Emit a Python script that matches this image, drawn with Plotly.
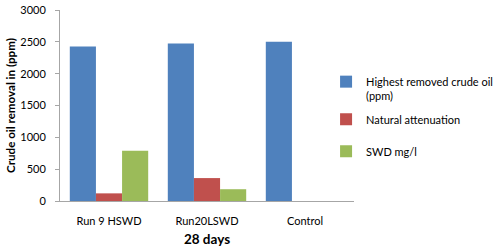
import plotly.graph_objects as go

categories = ["Run 9 HSWD", "Run20LSWD", "Control"]
highest_removed = [2425, 2475, 2500]
natural_attenuation = [120, 360, 0]
swd = [790, 185, 0]

series_names = ["Highest removed crude oil<br>(ppm)", "Natural attenuation", "SWD mg/l"]
colors = ["#4F81BD", "#C0504D", "#9BBB59"]
legend_ids = ["legend", "legend2", "legend2"]
y_ticks = [0, 500, 1000, 1500, 2000, 2500, 3000]

FONT = "Lato"

fig = go.Figure()
for i, (name, vals, col, lg) in enumerate(zip(series_names, [highest_removed, natural_attenuation, swd], colors, legend_ids)):
    fig.add_trace(go.Bar(x=categories, y=vals, name=name, marker=dict(color=col, line=dict(width=0)),
                         legendgroup=f"g{i}", legend=lg))

legend_common = dict(xref="paper", x=0.905, xanchor="left", yref="container", yanchor="top",
                     font=dict(size=11, family=FONT), itemwidth=30, tracegroupgap=13,
                     bgcolor="rgba(0,0,0,0)", valign="top")

fig.update_layout(
    width=500, height=252,
    margin=dict(l=60, r=146, t=10, b=51, autoexpand=False),
    paper_bgcolor="white", plot_bgcolor="white",
    font=dict(family=FONT, size=11, color="#000000"),
    barmode="group", bargap=0.2, bargroupgap=0,
    showlegend=True,
    legend=dict(legend_common, y=1 - 68 / 252),
    legend2=dict(legend_common, y=1 - 105.5 / 252),
    xaxis=dict(showline=True, linecolor="#A6A6A6", linewidth=1, ticks="", showgrid=False,
               ticklabelstandoff=10, automargin=False,
               title=dict(text="<b>28 days</b>", font=dict(size=13.5, family=FONT), standoff=8)),
    yaxis=dict(range=[0, 3000], tickvals=y_ticks, showline=True, linecolor="#A6A6A6", linewidth=1,
               ticks="outside", ticklen=4, tickcolor="#A6A6A6", showgrid=False, zeroline=False,
               automargin=False, ticklabelstandoff=7,
               title=dict(text="<b>Crude oil removal in (ppm)</b>", font=dict(size=11.6, family=FONT), standoff=2)),
)

fig.write_html("out.html", config={"displayModeBar": False},
               post_script="document.body.style.margin='0';")
